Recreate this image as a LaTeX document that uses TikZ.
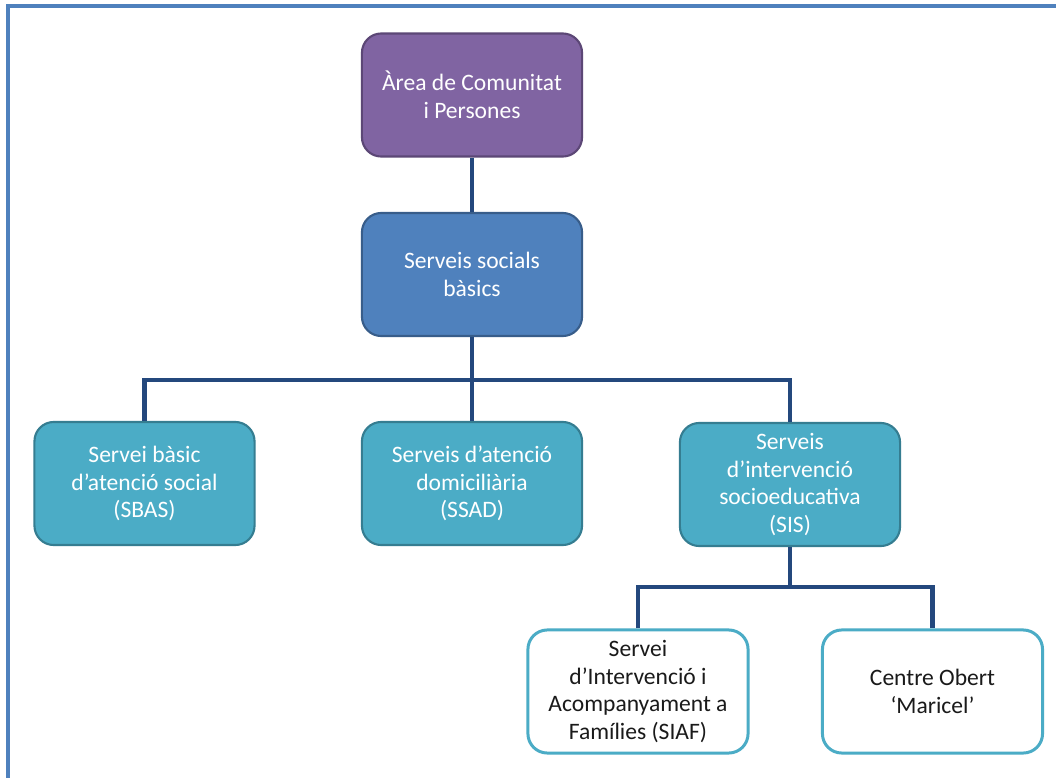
\documentclass[tikz,border=0pt]{standalone}
\usepackage{fontspec}
\setmainfont{Carlito}
\definecolor{framec}{HTML}{4F81BD}
\definecolor{purplef}{HTML}{8064A2}
\definecolor{purpled}{HTML}{5C4776}
\definecolor{bluef}{HTML}{4F81BD}
\definecolor{blued}{HTML}{385D8A}
\definecolor{tealf}{HTML}{4BACC6}
\definecolor{teald}{HTML}{357D91}
\definecolor{connc}{HTML}{24487D}
\definecolor{textd}{HTML}{1A1A1A}
\tikzset{
  box/.style={rounded corners=5.5pt, minimum width=2.2cm, minimum height=1.23cm,
    align=center, inner sep=0pt, font=\fontsize{6.7}{7.9}\selectfont, line width=0.6pt},
  purplebox/.style={box, fill=purplef, draw=purpled, text=white},
  bluebox/.style={box, fill=bluef, draw=blued, text=white},
  tealbox/.style={box, fill=tealf, draw=teald, text=white},
  whitebox/.style={box, fill=white, draw=tealf, line width=0.85pt, text=textd},
  conn/.style={draw=connc, line width=1.25pt},
  frame/.style={draw=framec, line width=1pt}
}
\begin{document}
\begin{tikzpicture}[x=0.01cm, y=-0.01cm]
\useasboundingbox (0,0) rectangle (1056,778);
\fill[white] (0,0) rectangle (1056,778);
\draw[frame] (8,800) -- (8,6) -- (1070,6);

\node[purplebox] (top) at (472,95) {Àrea de Comunitat\\i Persones};
\node[bluebox] (mid) at (472,274.5) {Serveis socials\\bàsics};
\node[tealbox] (sbas) at (144.5,483.5) {Servei bàsic\\d’atenció social\\(SBAS)};
\node[tealbox] (ssad) at (472,483.5) {Serveis d’atenció\\domiciliària\\(SSAD)};
\node[tealbox] (sis) at (790,484.5) {Serveis\\d’intervenció\\socioeducativa\\(SIS)};
\node[whitebox] (siaf) at (638,691.5) {Servei\\d’Intervenció i\\Acompanyament a\\Famílies (SIAF)};
\node[whitebox] (co) at (932.5,691.5) {\raisebox{-3pt}{\parbox{2cm}{\centering Centre Obert\\‘Maricel’}}};

\coordinate (bus1) at (472,380);
\coordinate (bus2) at (790,587);

\draw[conn] (top) -- (mid);
\draw[conn] (mid) -- (ssad);
\draw[conn] (sbas.north) |- (bus1) -| (sis.north);
\draw[conn] (sis) -- (bus2);
\draw[conn] (siaf.north) |- (bus2) -| (co.north);
\end{tikzpicture}
\end{document}
